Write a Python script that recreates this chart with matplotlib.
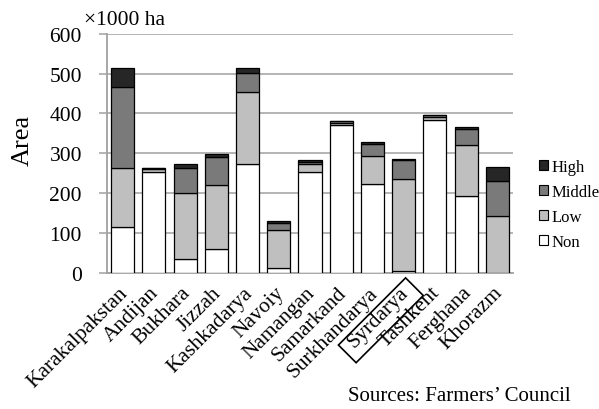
import matplotlib
matplotlib.use('Agg')
import matplotlib.pyplot as plt
from matplotlib.patches import Patch, Rectangle
from matplotlib.transforms import Affine2D, ScaledTranslation
import numpy as np

# ── Data (×1000 ha) ───────────────────────────────────────────────────────────
regions = ['Karakalpakstan', 'Andijan', 'Bukhara', 'Jizzah', 'Kashkadarya',
           'Navoiy', 'Namangan', 'Samarkand', 'Surkhandarya', 'Syrdarya',
           'Tashkent', 'Ferghana', 'Khorazm']
non    = [114, 254, 35, 60, 273, 12, 254, 372, 223, 5, 384, 192, 0]
low    = [149, 6, 164, 159, 181, 95, 18, 5, 69, 229, 8, 128, 143]
middle = [202, 3, 63, 72, 47, 19, 6, 3, 31, 48, 3, 41, 88]
high   = [49, 1, 12, 8, 13, 5, 5, 2, 4, 4, 2, 4, 34]

levels = ['Non', 'Low', 'Middle', 'High']
series = [non, low, middle, high]
y_ticks = [0, 100, 200, 300, 400, 500, 600]

# ── Style ─────────────────────────────────────────────────────────────────────
COLORS = {
    'Non':    '#ffffff',
    'Low':    '#bfbfbf',
    'Middle': '#7a7a7a',
    'High':   '#262626',
}
GRID = '#a0a0a0'
SERIF = ['Liberation Serif', 'DejaVu Serif']

plt.rcParams['font.family'] = SERIF

W, H = 599, 410
fig = plt.figure(figsize=(W / 100, H / 100), dpi=100)
ax = fig.add_axes([107 / W, 1 - 273.7 / H, (513 - 107) / W, (273.7 - 34.7) / H])

# ── Stacked bars ──────────────────────────────────────────────────────────────
x = np.arange(len(regions))
bottom = np.zeros(len(regions))
for name, vals in zip(levels, series):
    ax.bar(x, vals, width=0.74, bottom=bottom, color=COLORS[name],
           edgecolor='black', linewidth=0.9, zorder=3)
    bottom += np.array(vals)

# ── Axes cleanup ──────────────────────────────────────────────────────────────
ax.set_xlim(-0.5, len(regions) - 0.5)
ax.set_ylim(0, 600)
ax.set_yticks(y_ticks)
ax.set_yticklabels([str(v) for v in y_ticks], fontsize=15.5)
ax.set_xticks(x)
ax.set_xticklabels(regions, fontsize=15.5, rotation=45, ha='right',
                   va='center', rotation_mode='anchor')
ax.tick_params(axis='x', length=0, pad=12.2)
ax.tick_params(axis='y', length=6, width=1.1, color=GRID, pad=12)
# nudge the slanted labels a little to the right
nudge = ScaledTranslation(2.2 / 100, 0, fig.dpi_scale_trans)
for lbl in ax.get_xticklabels():
    lbl.set_transform(lbl.get_transform() + nudge)

ax.yaxis.grid(True, color=GRID, linewidth=1.1, zorder=0)
ax.set_axisbelow(True)
for side in ('top', 'right'):
    ax.spines[side].set_visible(False)
for side in ('left', 'bottom'):
    ax.spines[side].set_color(GRID)
    ax.spines[side].set_linewidth(1.3)

# ── Legend (top layer first) ──────────────────────────────────────────────────
handles = [Patch(facecolor=COLORS[n], edgecolor='black', linewidth=0.8)
           for n in levels[::-1]]
ax.legend(handles, levels[::-1], loc='center left',
          bbox_to_anchor=(539 / W, 1 - 205.5 / H), bbox_transform=fig.transFigure,
          frameon=False, fontsize=12, borderpad=0, borderaxespad=0,
          handlelength=0.55, handleheight=0.55, handletextpad=0.2,
          labelspacing=0.55)

# ── Titles and notes ──────────────────────────────────────────────────────────
fig.text(23 / W, 1 - 140 / H, 'Area', rotation=90, fontsize=19,
         ha='center', va='center')
fig.text(84 / W, 1 - 25 / H, '×1000 ha', fontsize=15.5, ha='left',
         va='baseline')
fig.text(348 / W, 1 - 401.5 / H, 'Sources: Farmers\u2019 Council', fontsize=15,
         ha='left', va='baseline')

# box around the Syrdarya label, in pixels, rotated with the text
box_tr = (Affine2D().rotate_deg(45)
          + ScaledTranslation(regions.index('Syrdarya'), 0, ax.transData))
box = Rectangle((-97.3, -30), 95, 25, transform=box_tr, fill=False,
                edgecolor='black', linewidth=1.2, clip_on=False)
fig.add_artist(box)

fig.savefig('out.png', dpi=100)
